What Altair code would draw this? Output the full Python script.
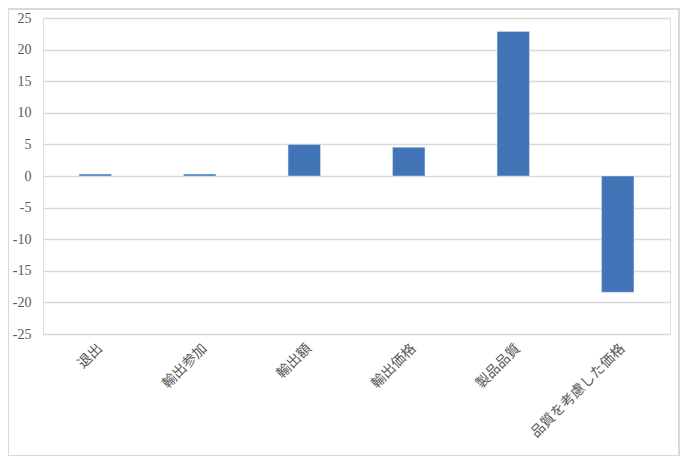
import altair as alt
import pandas as pd

categories = ["退出", "輸出参加", "輸出額", "輸出価格", "製品品質", "品質を考慮した価格"]
values = [0.3, 0.3, 5.0, 4.55, 22.85, -18.4]
y_ticks = [-25, -20, -15, -10, -5, 0, 5, 10, 15, 20, 25]

df = pd.DataFrame({"cat": categories, "val": values})

FONT = "Liberation Serif, Noto Sans CJK JP"
TXT = "#595959"

bars = alt.Chart(df).mark_bar(color="#4174b7", stroke="#dbe5f3", strokeWidth=0.5).encode(
    x=alt.X("cat:N", sort=categories, title=None,
            scale=alt.Scale(paddingInner=0.69, paddingOuter=0.345),
            axis=alt.Axis(labelAngle=315, labelFont=FONT, labelFontSize=14,
                          labelColor=TXT, domain=False, ticks=False,
                          labelPadding=7, grid=False)),
    y=alt.Y("val:Q", title=None,
            scale=alt.Scale(domain=[-25, 25], nice=False, zero=False),
            axis=alt.Axis(values=y_ticks, labelFont=FONT, labelFontSize=14,
                          labelColor=TXT, domain=False, ticks=False,
                          labelExpr="'' + datum.value",
                          labelPadding=12, grid=True, gridColor="#d9d9d9",
                          gridWidth=1.3)),
)

frame = alt.Chart(df).mark_rect(fill=None, stroke="#d9d9d9", strokeWidth=1.5).encode(
    x=alt.value(-35), x2=alt.value(636), y=alt.value(-9), y2=alt.value(438)
)

chart = alt.layer(bars, frame).properties(
    width=627, height=316,
    autosize=alt.AutoSizeParams(type="none"),
    padding={"left": 35, "top": 10, "right": 10, "bottom": 122},
).configure_view(stroke=None).configure(background="white")

chart.save("out.html", embed_options={"renderer": "svg", "actions": False})
